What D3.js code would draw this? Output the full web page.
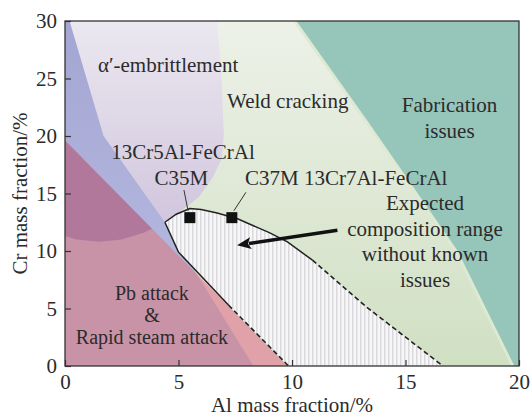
<!DOCTYPE html>
<html>
<head>
<meta charset="utf-8">
<script src="https://cdn.jsdelivr.net/npm/d3@7"></script>
<style>
  body { margin: 0; background: #fff; }
  text { font-family: "Liberation Serif", "Times New Roman", serif; fill: #2b2b2b; }
</style>
</head>
<body>
<script>
const width = 532;
const height = 416;
const margin = { top: 21, right: 13, bottom: 50, left: 65 };

// axis ticks
const alTicks = [0, 5, 10, 15, 20];
const crTicks = [0, 5, 10, 15, 20, 25, 30];

// regions, [Al %, Cr %]
const fabricationArea = [[10.2, 30], [20, 30], [20, 0], [19.8, 0], [17.3, 10], [13.3, 21.4]];
const embrittlementArea = [[0, 30], [6.7, 30], [6.9, 25], [7.0, 20], [6.9, 18], [6.5, 16.4], [5.9, 14.7],
  [5.2, 13.6], [4.4, 12.5], [3.5, 11.6], [2.5, 11.0], [1.5, 10.8], [0.5, 11.0], [0, 11.3]];
const blueWedge = [[0, 30], [0.2, 30], [1.7, 20], [4.4, 12.5], [8.3, 0], [0, 0]];
const attackArea = [[0, 0], [0, 19.6], [9.8, 0]];
const expectedArea = [[4.4, 12.5], [4.9, 13.2], [5.5, 13.7], [6.0, 13.6], [6.7, 13.3], [7.6, 12.8],
  [9.0, 11.6], [9.8, 10.8], [10.9, 9.2], [13.3, 5.1], [16.65, 0], [9.85, 0], [7.2, 5.3], [5.0, 9.9]];

// boundary lines
const upperSolid = [[4.4, 12.5], [4.9, 13.2], [5.5, 13.7], [6.0, 13.6], [6.7, 13.3], [7.6, 12.8], [9.0, 11.6], [9.8, 10.8], [10.9, 9.2]];
const upperDashed = [[10.9, 9.2], [13.3, 5.1], [16.65, 0]];
const lowerSolid = [[4.4, 12.5], [5.0, 9.9], [7.2, 5.3]];
const lowerDashed = [[7.2, 5.3], [9.85, 0]];

// alloys
const alloyNames = ["C35M", "C37M"];
const alloyAl = [5.5, 7.35];
const alloyCr = [12.9, 12.9];
const leaderFrom = [[5.42, 13.5], [7.44, 13.5]];
const leaderTo = [[5.24, 15.3], [7.97, 15.1]];

// arrow
const arrowTail = [12.0, 11.8];
const arrowHead = [7.58, 10.5];

// labels: position [Al, Cr] of first baseline, anchor, lines
const labels = [
  { at: [1.45, 25.6], anchor: "start", lines: ["α′-embrittlement"] },
  { at: [7.14, 22.4], anchor: "start", lines: ["Weld cracking"] },
  { at: [16.94, 22.1], anchor: "middle", lines: ["Fabrication", "issues"] },
  { at: [5.2, 18.0], anchor: "middle", lines: ["13Cr5Al-FeCrAl"] },
  { at: [5.13, 15.7], anchor: "middle", lines: ["C35M"] },
  { at: [7.93, 15.7], anchor: "start", lines: ["C37M 13Cr7Al-FeCrAl"] },
  { at: [15.86, 13.57], anchor: "middle", lines: ["Expected", "composition range", "without known", "issues"] },
  { at: [3.83, 5.75], anchor: "middle", lines: ["Pb attack", "&", "Rapid steam attack"], gap: 22, size: 20 }
];

const svg = d3.select("body").append("svg")
  .attr("width", width)
  .attr("height", height);

const x = d3.scaleLinear().domain([0, 20]).range([margin.left, width - margin.right]);
const y = d3.scaleLinear().domain([0, 30]).range([height - margin.bottom, margin.top]);

const line = d3.line().x(d => x(d[0])).y(d => y(d[1]));
const area = d3.line().x(d => x(d[0])).y(d => y(d[1])).curve(d3.curveLinearClosed);

const defs = svg.append("defs");

function vGrad(id, top, bottom) {
  const g = defs.append("linearGradient").attr("id", id)
    .attr("x1", 0).attr("y1", 0).attr("x2", 0).attr("y2", 1);
  g.append("stop").attr("offset", "0%").attr("stop-color", top);
  g.append("stop").attr("offset", "100%").attr("stop-color", bottom);
}
vGrad("greenGrad", "#edf1e8", "#d0e0c3");
vGrad("lavGrad", "#ebe8f0", "#cfc3dc");
vGrad("blueGrad", "#a4a6d3", "#b9bde1");

const hatch = defs.append("pattern").attr("id", "hatch")
  .attr("patternUnits", "userSpaceOnUse")
  .attr("width", 4).attr("height", 10);
hatch.append("rect").attr("width", 4).attr("height", 10).attr("fill", "#f7f7f8");
hatch.append("rect").attr("width", 1.5).attr("height", 10).attr("fill", "#dadade");

defs.append("clipPath").attr("id", "plotClip")
  .append("rect")
  .attr("x", x(0)).attr("y", y(30))
  .attr("width", x(20) - x(0)).attr("height", y(0) - y(30));

defs.append("clipPath").attr("id", "attackClip")
  .append("path").attr("d", area(attackArea));

const plot = svg.append("g").attr("clip-path", "url(#plotClip)");

// weld cracking background
plot.append("rect")
  .attr("x", x(0)).attr("y", y(30))
  .attr("width", x(20) - x(0)).attr("height", y(0) - y(30))
  .attr("fill", "url(#greenGrad)");

// fabrication issues
plot.append("path").attr("d", line([fabricationArea[0]].concat(fabricationArea.slice(3).reverse())))
  .attr("fill", "none").attr("stroke", "#dde9d3").attr("stroke-width", 6);
plot.append("path").attr("d", area(fabricationArea)).attr("fill", "#96c5ba");

// alpha' embrittlement
plot.append("path").attr("d", area(embrittlementArea)).attr("fill", "url(#lavGrad)");
plot.append("path").attr("d", area(blueWedge)).attr("fill", "url(#blueGrad)");

// Pb attack
plot.append("path").attr("d", area(attackArea)).attr("fill", "#e0a1a9");
const overlap = plot.append("g").attr("clip-path", "url(#attackClip)");
overlap.append("path").attr("d", area(blueWedge)).attr("fill", "#7060a0").attr("opacity", 0.2);
overlap.append("path").attr("d", area(embrittlementArea)).attr("fill", "#6e2878").attr("opacity", 0.25);

// expected range
plot.append("path").attr("d", area(expectedArea)).attr("fill", "url(#hatch)");

plot.append("path").attr("d", line(upperSolid)).attr("fill", "none").attr("stroke", "#222").attr("stroke-width", 1.5);
plot.append("path").attr("d", line(lowerSolid)).attr("fill", "none").attr("stroke", "#222").attr("stroke-width", 1.5);
plot.append("path").attr("d", line(upperDashed)).attr("fill", "none").attr("stroke", "#222")
  .attr("stroke-width", 1.6).attr("stroke-dasharray", "5,3");
plot.append("path").attr("d", line(lowerDashed)).attr("fill", "none").attr("stroke", "#222")
  .attr("stroke-width", 1.6).attr("stroke-dasharray", "5,3");

// leader lines and markers
alloyNames.forEach((name, i) => {
  plot.append("line")
    .attr("x1", x(leaderFrom[i][0])).attr("y1", y(leaderFrom[i][1]))
    .attr("x2", x(leaderTo[i][0])).attr("y2", y(leaderTo[i][1]))
    .attr("stroke", "#333").attr("stroke-width", 1);
  plot.append("rect")
    .attr("x", x(alloyAl[i]) - 5.5).attr("y", y(alloyCr[i]) - 5.5)
    .attr("width", 11).attr("height", 11)
    .attr("fill", "#111");
});

// arrow
const ax1 = x(arrowTail[0]), ay1 = y(arrowTail[1]);
const ax2 = x(arrowHead[0]), ay2 = y(arrowHead[1]);
const ang = Math.atan2(ay2 - ay1, ax2 - ax1);
const headLen = 14, headW = 6;
const bx = ax2 - headLen * Math.cos(ang), by = ay2 - headLen * Math.sin(ang);
plot.append("line")
  .attr("x1", ax1).attr("y1", ay1).attr("x2", bx + 2 * Math.cos(ang)).attr("y2", by + 2 * Math.sin(ang))
  .attr("stroke", "#111").attr("stroke-width", 3.5);
plot.append("path")
  .attr("d", `M${ax2},${ay2}L${bx - headW * Math.sin(ang)},${by + headW * Math.cos(ang)}` +
    `L${bx + 3 * Math.cos(ang)},${by + 3 * Math.sin(ang)}L${bx + headW * Math.sin(ang)},${by - headW * Math.cos(ang)}Z`)
  .attr("fill", "#111");

// labels
labels.forEach(lab => {
  const t = svg.append("text")
    .attr("x", x(lab.at[0]))
    .attr("y", y(lab.at[1]))
    .attr("text-anchor", lab.anchor)
    .attr("font-size", (lab.size || 21) + "px");
  lab.lines.forEach((s, j) => {
    t.append("tspan")
      .attr("x", x(lab.at[0]))
      .attr("dy", j === 0 ? 0 : (lab.gap || 25.7))
      .text(s);
  });
});

// axes
const xAxis = svg.append("g")
  .attr("transform", `translate(0,${y(0)})`)
  .call(d3.axisBottom(x).tickValues(alTicks).tickSizeInner(-6).tickSizeOuter(0).tickPadding(8));
const yAxis = svg.append("g")
  .attr("transform", `translate(${x(0)},0)`)
  .call(d3.axisLeft(y).tickValues(crTicks).tickSizeInner(-6).tickSizeOuter(0).tickPadding(8));

[xAxis, yAxis].forEach(a => {
  a.select(".domain").remove();
  a.selectAll(".tick line").attr("stroke", "#333").attr("stroke-width", 1.2);
  a.selectAll(".tick text").style("font-size", "21px");
});

svg.append("rect")
  .attr("x", x(0)).attr("y", y(30))
  .attr("width", x(20) - x(0)).attr("height", y(0) - y(30))
  .attr("fill", "none").attr("stroke", "#333").attr("stroke-width", 1.3);

svg.append("text")
  .attr("x", (x(0) + x(20)) / 2)
  .attr("y", height - 4)
  .attr("text-anchor", "middle")
  .attr("font-size", "21px")
  .text("Al mass fraction/%");

svg.append("text")
  .attr("transform", `translate(27,${(y(0) + y(30)) / 2}) rotate(-90)`)
  .attr("text-anchor", "middle")
  .attr("font-size", "21px")
  .text("Cr mass fraction/%");
</script>
</body>
</html>
